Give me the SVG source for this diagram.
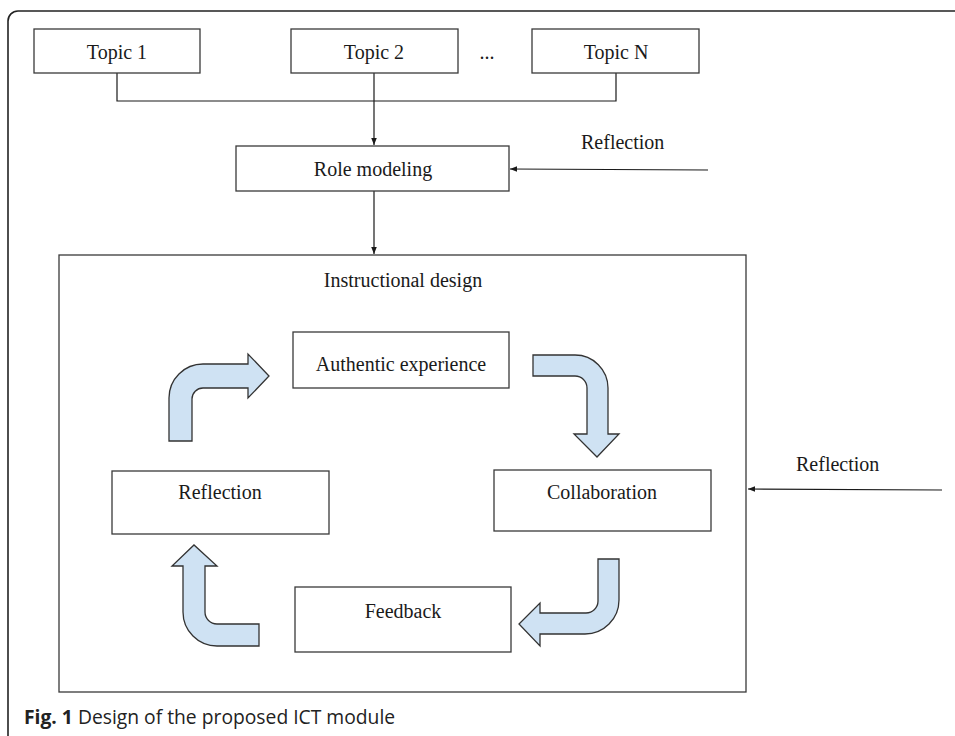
<svg xmlns="http://www.w3.org/2000/svg" width="955" height="736" viewBox="0 0 955 736">
  <defs>
    <style>
      .box { fill: #ffffff; stroke: #3a3a3a; stroke-width: 1.3; }
      .lbl { font-family: "Liberation Serif", "Times New Roman", serif; font-size: 20px; fill: #1a1a1a; text-anchor: middle; }
      .lbl-l { font-family: "Liberation Serif", "Times New Roman", serif; font-size: 20px; fill: #1a1a1a; }
      .wire { fill: none; stroke: #1a1a1a; stroke-width: 1.2; }
      .bend { fill: #cfe2f3; stroke: #333333; stroke-width: 1.3; stroke-linejoin: miter; }
      .cap { font-family: "Open Sans", "Noto Sans", sans-serif; font-size: 19.3px; fill: #222222; }
    </style>
    <marker id="head" viewBox="0 0 10 10" refX="10" refY="5" markerWidth="7" markerHeight="7" orient="auto" markerUnits="userSpaceOnUse">
      <path d="M0,1 L10,5 L0,9 Z" fill="#1a1a1a"/>
    </marker>
  </defs>

  <!-- page frame -->
  <path d="M8,760 V21 A10,10 0 0 1 18,11 H970" fill="none" stroke="#222222" stroke-width="1.6"/>

  <!-- connectors -->
  <g id="connectors">
    <path class="wire" d="M117,73 V101 H616 V73"/>
    <path class="wire" d="M374,73 V145" marker-end="url(#head)"/>
    <path class="wire" d="M708,170 L510,169" marker-end="url(#head)"/>
    <path class="wire" d="M374,191 V254" marker-end="url(#head)"/>
    <path class="wire" d="M942,490 L748,489" marker-end="url(#head)"/>
  </g>

  <g id="topic1">
    <rect class="box" x="34" y="29" width="166" height="44"/>
    <text class="lbl" x="117" y="59">Topic 1</text>
  </g>
  <g id="topic2">
    <rect class="box" x="291" y="29" width="167" height="44"/>
    <text class="lbl" x="374" y="59">Topic 2</text>
  </g>
  <g id="ellipsis">
    <text class="lbl" x="487" y="59">...</text>
  </g>
  <g id="topicN">
    <rect class="box" x="532" y="29" width="167" height="44"/>
    <text class="lbl" x="616" y="59">Topic N</text>
  </g>

  <g id="reflection-top">
    <text class="lbl-l" x="581" y="149">Reflection</text>
  </g>

  <g id="role-modeling">
    <rect class="box" x="236" y="146" width="273" height="45"/>
    <text class="lbl" x="373" y="176">Role modeling</text>
  </g>

  <g id="instructional-design">
    <rect class="box" x="59" y="255" width="687" height="437"/>
    <text class="lbl" x="403" y="287">Instructional design</text>
  </g>

  <g id="authentic-experience">
    <rect class="box" x="293" y="332" width="216" height="56"/>
    <text class="lbl" x="401" y="371">Authentic experience</text>
  </g>

  <g id="reflection-box">
    <rect class="box" x="112" y="471" width="217" height="63"/>
    <text class="lbl" x="220" y="499">Reflection</text>
  </g>

  <g id="collaboration">
    <rect class="box" x="494" y="470" width="217" height="61"/>
    <text class="lbl" x="602" y="499">Collaboration</text>
  </g>

  <g id="feedback">
    <rect class="box" x="295" y="587" width="216" height="65"/>
    <text class="lbl" x="403" y="618">Feedback</text>
  </g>

  <g id="reflection-right">
    <text class="lbl-l" x="796" y="471">Reflection</text>
  </g>

  <!-- cycle arrows -->
  <g id="cycle-arrows">
    <path class="bend" d="M169,441 V398 A34,34 0 0 1 203,364 H248 V354 L269,376 L248,398 V388 H203 A11,11 0 0 0 192,399 V441 Z"/>
    <path class="bend" d="M533,355 H575 A33,33 0 0 1 608,388 V434 H619 L597,457 L574,434 H587 V388 A12,12 0 0 0 575,376 H533 Z"/>
    <path class="bend" d="M598,559 H619 V600 A34,34 0 0 1 585,634 H540 V646 L519,624 L540,603 V613 H586 A12,12 0 0 0 598,601 Z"/>
    <path class="bend" d="M259,624 V646 H217 A34,34 0 0 1 183,612 V566 H172 L194,545 L217,566 H205 V612 A12,12 0 0 0 217,624 Z"/>
  </g>

  <g id="caption">
    <text class="cap" x="24" y="724"><tspan font-weight="bold">Fig. 1</tspan> Design of the proposed ICT module</text>
  </g>
</svg>
